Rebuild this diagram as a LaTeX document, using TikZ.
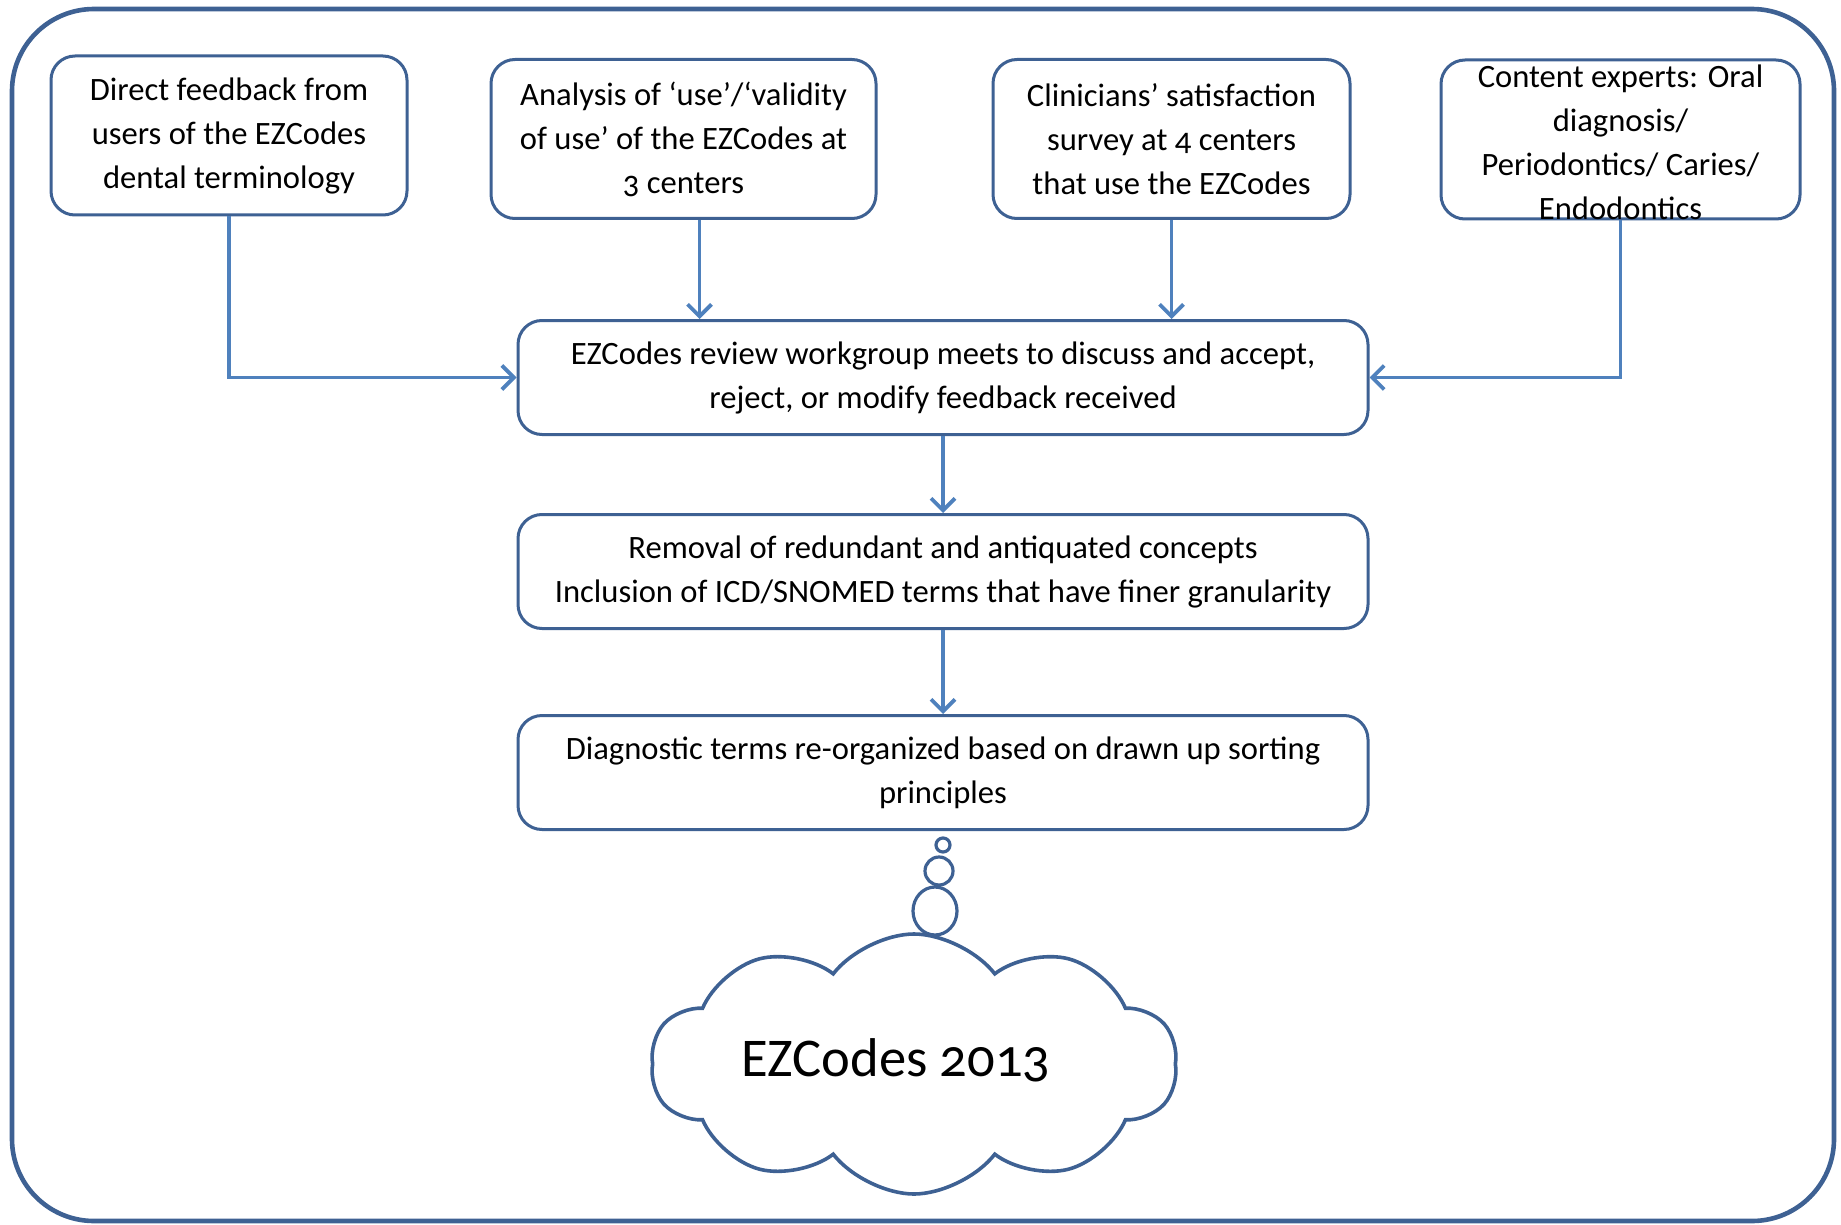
\documentclass[tikz,border=0pt]{standalone}
\usepackage{fontspec}
\setmainfont{Carlito}[Numbers=OldStyle]
\usepackage{xcolor}
\usetikzlibrary{arrows.meta,shapes.symbols,shapes.geometric}
\definecolor{framec}{HTML}{3E6193}
\definecolor{arrowc}{HTML}{4F81BD}

\begin{document}
\begin{tikzpicture}[x=0.5pt, y=-0.5pt, >={Straight Barb[length=6pt,width=12pt]},
  font=\fontsize{16.3}{22}\selectfont,
  box/.style={draw=framec, line width=1.5pt, rounded corners=12pt, align=center, inner sep=2pt},
  srcbox/.style={box, minimum height=79.5pt},
  stepbox/.style={box, minimum width=425pt, minimum height=57pt},
  arr/.style={->, draw=arrowc, line width=1.9pt},
  bubble/.style={draw=framec, line width=1.6pt, circle, inner sep=0pt}]
\useasboundingbox (0,0) rectangle (1841,1225);
\draw[framec, line width=2.3pt, rounded corners=41pt] (12,9) rectangle (1834,1221);
% sources of feedback
\node[srcbox, minimum width=178pt]   (direct)   at (229,135.5)  {Direct feedback from\\users of the EZCodes\\dental terminology};
\node[srcbox, minimum width=192.5pt] (analysis) at (683.5,139)  {Analysis of ‘use’/‘validity\\of use’ of the EZCodes at\\3 centers};
\node[srcbox, minimum width=178.5pt] (survey)   at (1171.5,139) {Clinicians’ satisfaction\\survey at 4 centers\\that use the EZCodes};
\node[srcbox, minimum width=179.5pt, label={[align=center, yshift=-1.5pt]center:Content experts: Oral\\diagnosis/\\Periodontics/ Caries/\\Endodontics}] (experts) at (1620.5,139.5) {};
% review steps
\node[stepbox] (review)  at (943,377.5) {EZCodes review workgroup meets to discuss and accept,\\reject, or modify feedback received};
\node[stepbox] (removal) at (943,571.5) {Removal of redundant and antiquated concepts\\Inclusion of ICD/SNOMED terms that have finer granularity};
\node[stepbox] (sorting) at (943,772.5) {Diagnostic terms re-organized based on drawn up sorting\\principles};
% thought bubble
\node[bubble, minimum size=7pt]  (bub1) at (943,845) {};
\node[bubble, minimum size=14pt] (bub2) at (939,871) {};
\node[bubble, ellipse, minimum width=22pt, minimum height=24pt] (bub3) at (935,911) {};
\node[cloud, cloud puffs=10, cloud puff arc=105, draw=framec, line width=1.8pt, minimum width=263pt, minimum height=130pt] (cloud) at (914,1064) {};
\node[font=\fontsize{27.3}{30}\selectfont] (title) at (896,1060) {EZCodes 2013};
% connectors
\draw[arr] (direct.south) |- (review.west);
\draw[arr] ([xshift=8pt]analysis.south) -- ([xshift=8pt]analysis.south |- review.north);
\draw[arr] (survey.south) -- (survey.south |- review.north);
\draw[arr] (experts.south) |- (review.east);
\draw[arr] (review) -- (removal);
\draw[arr] (removal) -- (sorting);
\end{tikzpicture}
\end{document}
